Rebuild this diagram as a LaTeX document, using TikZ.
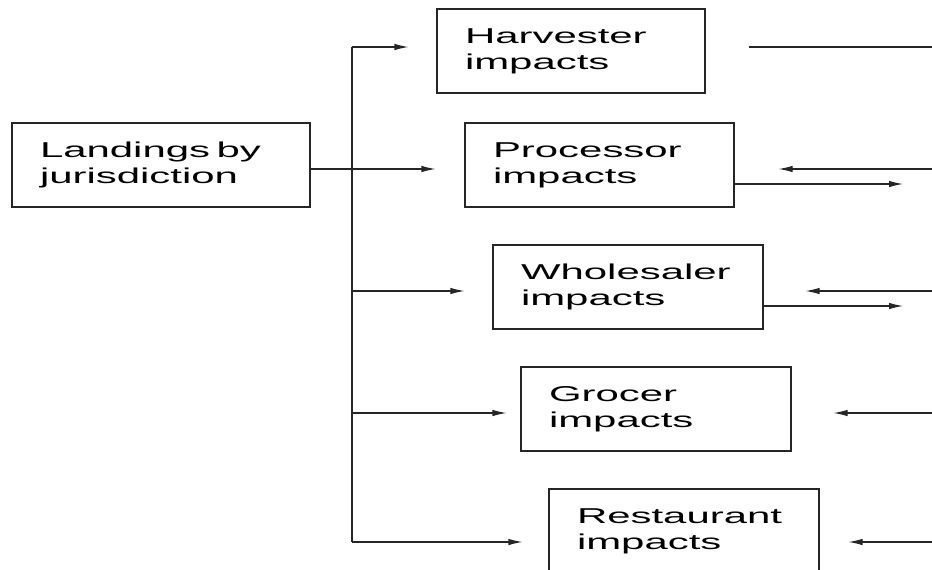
\documentclass[tikz,border=0pt]{standalone}
\usepackage{fontspec}
\setmainfont{Liberation Sans}
\usepackage{graphicx}
\usetikzlibrary{arrows.meta}
\newcommand{\boxtext}[2]{\scalebox{1.95}[1]{\fontsize{21.5}{26.5}\selectfont\begin{tabular}{@{}l@{}}#1\\#2\end{tabular}}}
\begin{document}
\begin{tikzpicture}[x=1pt,y=-1pt,
  box/.style={draw=black!85, line width=1.1pt, rectangle, minimum height=84pt, inner xsep=28pt, inner ysep=0pt, align=left},
  conn/.style={draw=black!85, line width=1.1pt},
  arr/.style={conn, -{Latex[length=14pt,width=6.5pt]}}]
\useasboundingbox (0,0) rectangle (932,570);
\fill[white] (0,0) rectangle (932,570);
% boxes
\node[box, text width=242pt] (l) at (161,165) {\boxtext{Landings by}{jurisdiction}};
\node[box, text width=212pt] (h) at (571,51) {\boxtext{Harvester}{impacts}};
\node[box, text width=213pt] (p) at (599.5,165) {\boxtext{Processor}{impacts}};
\node[box, text width=214pt] (w) at (628,287) {\boxtext{Wholesaler}{impacts}};
\node[box, text width=214pt] (g) at (656,409) {\boxtext{Grocer}{impacts}};
\node[box, text width=214pt] (r) at (684,531) {\boxtext{Restaurant}{impacts}};
% trunk
\coordinate (t1) at (352,47);
\coordinate (t3) at (352,291);
\coordinate (t4) at (352,413);
\coordinate (t5) at (352,542);
\draw[conn] (t1) -- (t5);
% left arrows
\draw[arr] (t1) -- ([shift={(-28pt,4pt)}]h.west);
\draw[arr] ([yshift=-4pt]l.east) -- ([shift={(-29pt,-4pt)}]p.west);
\draw[arr] (t3) -- ([shift={(-28pt,-4pt)}]w.west);
\draw[arr] (t4) -- ([shift={(-14pt,-4pt)}]g.west);
\draw[arr] (t5) -- ([shift={(-26pt,-11pt)}]r.west);
% right side
\coordinate (e1) at (932,47);
\coordinate (e2) at (932,169);
\coordinate (f2) at (903,184);
\coordinate (e3) at (932,291);
\coordinate (f3) at (903,306);
\coordinate (e4) at (932,413);
\coordinate (e5) at (932,542);
\draw[conn] ([shift={(43pt,4pt)}]h.east) -- (e1);
\draw[arr] (e2) -- ([shift={(44pt,-4pt)}]p.east);
\draw[arr] ([yshift=-19pt]p.east) -- (f2);
\draw[arr] (e3) -- ([shift={(42pt,-4pt)}]w.east);
\draw[arr] ([yshift=-19pt]w.east) -- (f3);
\draw[arr] (e4) -- ([shift={(42pt,-4pt)}]g.east);
\draw[arr] (e5) -- ([shift={(29pt,-11pt)}]r.east);
\end{tikzpicture}
\end{document}
